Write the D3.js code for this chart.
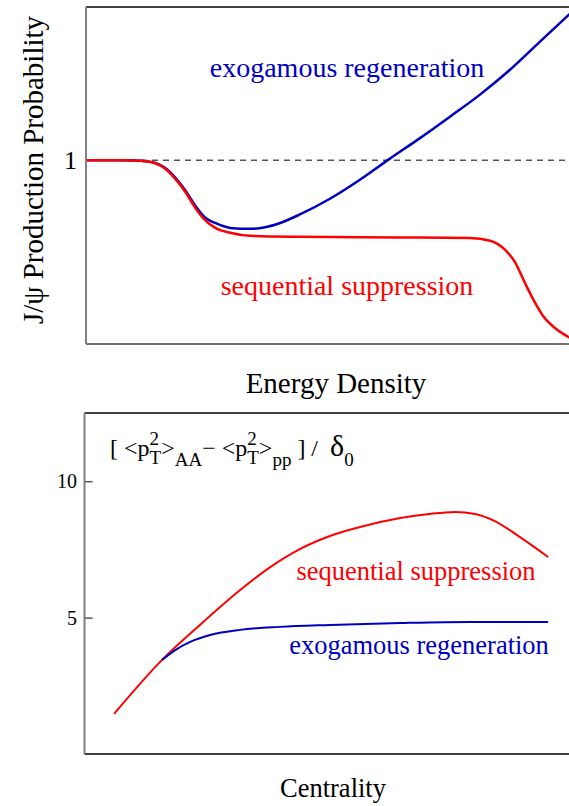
<!DOCTYPE html>
<html>
<head>
<meta charset="utf-8">
<script src="https://cdn.jsdelivr.net/npm/d3@7"></script>
<style>
  body { margin: 0; background: #fff; }
  text { font-family: "Liberation Serif", "Times New Roman", serif; white-space: pre; }
</style>
</head>
<body>
<div id="chart"></div>
<script>
// top panel: J/psi production probability vs energy density
const topX = [0, 0.8, 1.12, 1.43, 1.63, 1.84, 2.05, 2.25, 2.46, 2.67, 2.98, 3.39, 4.42, 6.49, 7.93, 8.35, 8.66, 8.86, 9.07, 9.28, 9.44, 9.69, 10]
const sequentialTop = [1.0, 1.0, 0.998, 0.99, 0.973, 0.94, 0.897, 0.846, 0.804, 0.779, 0.763, 0.753, 0.75, 0.748, 0.746, 0.737, 0.707, 0.668, 0.599, 0.534, 0.492, 0.452, 0.42]

const topBlueX = [0, 0.8, 1.12, 1.43, 1.63, 1.84, 2.05, 2.25, 2.46, 2.67, 2.98, 3.39, 3.7, 4.01, 4.42, 5.04, 5.66, 6.28, 6.9, 7.52, 8.14, 8.76, 9.38, 10]
const exogamousTop = [1.0, 1.0, 0.998, 0.991, 0.975, 0.944, 0.902, 0.853, 0.813, 0.795, 0.779, 0.776, 0.781, 0.795, 0.823, 0.874, 0.936, 1.005, 1.072, 1.142, 1.214, 1.295, 1.387, 1.478]

// bottom panel: pT broadening vs centrality
const botRedX = [0.62, 1.61, 2.39, 3.22, 3.84, 4.45, 5.07, 5.69, 6.52, 7.13, 7.65, 8.06, 8.47, 8.99, 9.57]
const sequentialBot = [1.47, 3.45, 4.73, 6.01, 6.85, 7.51, 7.99, 8.32, 8.65, 8.80, 8.87, 8.80, 8.54, 7.95, 7.22]

const botBlueX = [1.61, 1.88, 2.19, 2.60, 3.22, 4.04, 5.07, 6.52, 7.96, 9.57]
const exogamousBot = [3.45, 3.81, 4.11, 4.36, 4.55, 4.66, 4.73, 4.80, 4.84, 4.84]

const botTicks = [5, 10]

const W = 569, H = 806
const red = "#ff0000", blue = "#0000c0"

const svg = d3.select("#chart").append("svg")
    .attr("width", W)
    .attr("height", H)

// ---- top panel ----
const topBox = { left: 86, right: 572, top: 7, bottom: 344 }
const xT = d3.scaleLinear().domain([0, 10]).range([topBox.left, 570])
const yT = d3.scaleLinear().domain([0.4, 1.5]).range([topBox.bottom, topBox.bottom - 337])

const line = (xs, sx, sy) => d3.line()
    .x((d, i) => sx(xs[i]))
    .y(d => sy(d))
    .curve(d3.curveMonotoneX)

svg.append("line")
    .attr("x1", xT(0)).attr("x2", W)
    .attr("y1", yT(1)).attr("y2", yT(1))
    .attr("stroke", "#000").attr("stroke-width", 1)
    .attr("stroke-dasharray", "6,5")

svg.append("path")
    .attr("d", line(topBlueX, xT, yT)(exogamousTop))
    .attr("fill", "none").attr("stroke", blue).attr("stroke-width", 2.5)
svg.append("path")
    .attr("d", line(topX, xT, yT)(sequentialTop))
    .attr("fill", "none").attr("stroke", red).attr("stroke-width", 2.5)

// frame
svg.append("line").attr("x1", topBox.left).attr("x2", topBox.right).attr("y1", topBox.top).attr("y2", topBox.top)
    .attr("stroke", "#000").attr("stroke-width", 1.5)
svg.append("line").attr("x1", topBox.left).attr("x2", topBox.right).attr("y1", topBox.bottom).attr("y2", topBox.bottom)
    .attr("stroke", "#444").attr("stroke-width", 1.5)
svg.append("line").attr("x1", topBox.left).attr("x2", topBox.left).attr("y1", topBox.top).attr("y2", topBox.bottom)
    .attr("stroke", "#808080").attr("stroke-width", 2)

svg.append("text")
    .attr("x", 77).attr("y", yT(1) + 9)
    .attr("text-anchor", "end").attr("font-size", 26)
    .text("1")

svg.append("text")
    .attr("transform", "translate(43,170) rotate(-90)")
    .attr("text-anchor", "middle").attr("font-size", 29)
    .text("J/ψ Production Probability")

svg.append("text")
    .attr("x", 347).attr("y", 77)
    .attr("text-anchor", "middle").attr("font-size", 28).attr("fill", blue)
    .text("exogamous regeneration")
svg.append("text")
    .attr("x", 347).attr("y", 295)
    .attr("text-anchor", "middle").attr("font-size", 28).attr("fill", red)
    .text("sequential suppression")

svg.append("text")
    .attr("x", 336).attr("y", 393)
    .attr("text-anchor", "middle").attr("font-size", 29)
    .text("Energy Density")

// ---- bottom panel ----
const bot = { left: 84.5, right: 572, top: 413, bottom: 754 }
const xB = d3.scaleLinear().domain([0, 10]).range([84, 569])
const yB = d3.scaleLinear().domain([0, 12.5]).range([bot.bottom, bot.top])

svg.append("path")
    .attr("d", line(botRedX, xB, yB)(sequentialBot))
    .attr("fill", "none").attr("stroke", red).attr("stroke-width", 2)
svg.append("path")
    .attr("d", line(botBlueX, xB, yB)(exogamousBot))
    .attr("fill", "none").attr("stroke", blue).attr("stroke-width", 2)

svg.append("line").attr("x1", bot.left).attr("x2", bot.right).attr("y1", bot.top).attr("y2", bot.top)
    .attr("stroke", "#000").attr("stroke-width", 1.5)
svg.append("line").attr("x1", bot.left).attr("x2", bot.right).attr("y1", bot.bottom).attr("y2", bot.bottom)
    .attr("stroke", "#000").attr("stroke-width", 1.5)

const yAxis = svg.append("g")
    .attr("transform", `translate(${bot.left},0)`)
    .call(d3.axisRight(yB).tickValues(botTicks).tickSize(8).tickFormat(""))
yAxis.select(".domain").remove()
yAxis.selectAll(".tick line").attr("stroke", "#555").attr("stroke-width", 1.5)
svg.append("line").attr("x1", bot.left).attr("x2", bot.left).attr("y1", bot.top).attr("y2", bot.bottom)
    .attr("stroke", "#808080").attr("stroke-width", 2)

svg.selectAll(".ylab")
    .data(botTicks)
    .enter().append("text")
    .attr("class", "ylab")
    .attr("x", 77).attr("y", d => yB(d) + 7)
    .attr("text-anchor", "end").attr("font-size", 20)
    .text(d => d)

svg.append("text")
    .attr("x", 416).attr("y", 580)
    .attr("text-anchor", "middle").attr("font-size", 26.5).attr("fill", red)
    .text("sequential suppression")
svg.append("text")
    .attr("x", 419).attr("y", 654)
    .attr("text-anchor", "middle").attr("font-size", 26.5).attr("fill", blue)
    .text("exogamous regeneration")

svg.append("text")
    .attr("x", 333).attr("y", 797)
    .attr("text-anchor", "middle").attr("font-size", 26.5)
    .text("Centrality")

// formula, laid out piece by piece
const base = 456
let cx = 110
const piece = (s, size, dy) => {
    const t = svg.append("text").attr("x", cx).attr("y", base + dy).attr("font-size", size).text(s)
    const w = t.node().getComputedTextLength()
    cx += w
    return w
}
const stack = (sup, sub, size) => {
    const a = svg.append("text").attr("x", cx).attr("y", base - 11).attr("font-size", size).text(sup)
    const b = svg.append("text").attr("x", cx).attr("y", base + 8).attr("font-size", size).text(sub)
    cx += Math.max(a.node().getComputedTextLength(), b.node().getComputedTextLength())
}
piece("[ <p", 24, 0)
stack("2", "T", 19)
piece(">", 24, 0)
piece("AA", 19, 10)
piece("\u2212 <p", 24, 0)
stack("2", "T", 19)
piece(">", 24, 0)
piece("pp", 19, 10)
piece(" ] /  ", 24, 0)
piece("\u03b4", 30, 0)
piece("0", 19, 10)
</script>
</body>
</html>
